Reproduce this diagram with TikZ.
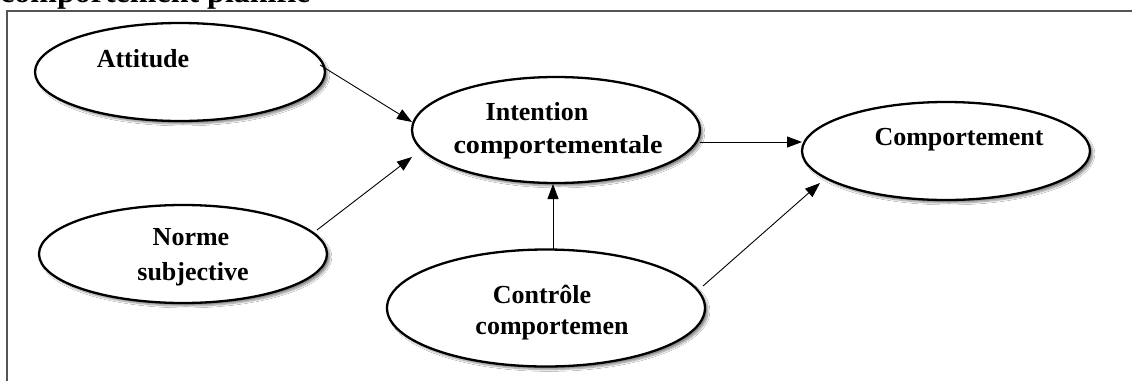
\documentclass[tikz,border=0pt]{standalone}
\usepackage{fontspec}
\setmainfont{Liberation Serif}
\usetikzlibrary{shapes.geometric,arrows.meta,shadows.blur}
\definecolor{framegray}{RGB}{85,85,85}
\begin{document}
\begin{tikzpicture}[x=1pt,y=-1pt,
  oval/.style={ellipse, draw=black, line width=2.3pt, fill=white, inner sep=0pt,
    blur shadow={shadow xshift=3pt, shadow yshift=-3pt, shadow blur steps=6, shadow opacity=45}},
  lbl/.style={font=\fontsize{26}{30}\selectfont\bfseries, inner sep=0pt, anchor=base},
  arr/.style={line width=0.9pt, -{Triangle[length=15pt,width=11pt]}}]

\useasboundingbox (0,0) rectangle (1132,381);
\fill[white] (0,0) rectangle (1132,381);

\begin{scope}
\clip (0,0) rectangle (1132,381);
\node[font=\fontsize{32}{36}\selectfont\bfseries, anchor=base west, inner sep=0pt] (title) at (0,2) {comportement planifié};
\end{scope}
\draw[line width=2pt, color=framegray] (1132,11) -- (7,11) -- (7,381);

\node[oval, minimum width=290, minimum height=98] (att) at (180,72) {};
\node[oval, minimum width=288, minimum height=106] (int) at (556,130) {};
\node[oval, minimum width=288, minimum height=98] (comp) at (946,151) {};
\node[oval, minimum width=288, minimum height=98] (norme) at (183,254) {};
\node[oval, minimum width=318, minimum height=117] (ctrl) at (546,308) {};

\node[lbl] (tatt) at (143,67) {Attitude};
\node[lbl] (tint1) at (537,120) {Intention};
\node[lbl] (tint2) at (558,153) {\scalebox{1.08}[1]{comportementale}};
\node[lbl] (tcomp) at (959,145) {Comportement};
\node[lbl] (tnorme1) at (191,245) {Norme};
\node[lbl] (tnorme2) at (193,280) {subjective};
\node[lbl] (tctrl1) at (542,303) {Contrôle};
\node[lbl] (tctrl2) at (552,334) {comportemen};

\draw[arr] ([shift={(140,-7)}]att.center) -- ([shift={(-144,-8)}]int.center);
\draw[arr] ([shift={(134,-24)}]norme.center) -- ([shift={(-144,27)}]int.center);
\draw[arr] ([shift={(144,12)}]int.center) -- ([shift={(-144,-9)}]comp.center);
\draw[arr] ([shift={(7,-58)}]ctrl.center) -- ([shift={(-3,54)}]int.center);
\draw[arr] ([shift={(157,-22)}]ctrl.center) -- ([shift={(-126,32)}]comp.center);
\end{tikzpicture}
\end{document}
